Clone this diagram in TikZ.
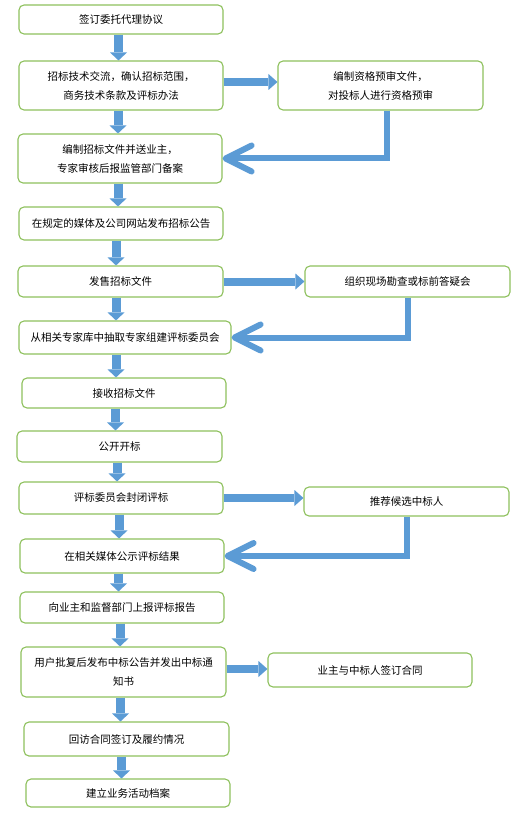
\documentclass[tikz,border=0pt]{standalone}
\usepackage{fontspec}
\newfontfamily\cjk{Noto Sans CJK SC}
\usetikzlibrary{arrows.meta}

\begin{document}
\begin{tikzpicture}[x=1pt,y=-1pt]
	\tikzstyle{every node}=[font=\cjk\fontsize{10.5pt}{19pt}\selectfont]
	
	\definecolor{boxgreen}{RGB}{141,192,92}
	\definecolor{arrowblue}{RGB}{91,155,213}
	\tikzstyle{procbox}=[draw=boxgreen, line width=1.1pt, rounded corners=5pt, align=center, inner sep=0pt]
	\tikzstyle{downarrow}=[arrowblue, line width=9pt, -{Triangle[length=8pt,width=17pt,line width=0pt]}]
	\tikzstyle{sidearrow}=[arrowblue, line width=8pt, -{Triangle[length=9pt,width=16pt,line width=0pt]}]
	\tikzstyle{backarrow}=[arrowblue, line width=6pt, -{Straight Barb[length=26pt,width=26pt,round]}]
	%%page size of the flow chart
	\useasboundingbox (0,0) rectangle (531,813);
	
	\node [procbox, minimum width=204pt, minimum height=29pt] (b1) at (121.0000,19.5000) {签订委托代理协议};
	\node [procbox, minimum width=204pt, minimum height=49pt] (b2) at (121.0000,85.5000) {招标技术交流，确认招标范围，\\商务技术条款及评标办法};
	\node [procbox, minimum width=205pt, minimum height=49pt] (r1) at (380.5000,85.5000) {编制资格预审文件，\\对投标人进行资格预审};
	\node [procbox, minimum width=204pt, minimum height=49pt] (b3) at (120.0000,158.5000) {编制招标文件并送业主，\\专家审核后报监管部门备案};
	\node [procbox, minimum width=204pt, minimum height=33pt] (b4) at (121.0000,223.5000) {在规定的媒体及公司网站发布招标公告};
	\node [procbox, minimum width=205pt, minimum height=31pt] (b5) at (120.5000,281.5000) {发售招标文件};
	\node [procbox, minimum width=205pt, minimum height=31pt] (r2) at (407.5000,281.5000) {组织现场勘查或标前答疑会};
	\node [procbox, minimum width=212pt, minimum height=33pt] (b6) at (125.0000,337.5000) {从相关专家库中抽取专家组建评标委员会};
	\node [procbox, minimum width=204pt, minimum height=30pt] (b7) at (124.0000,393.0000) {接收招标文件};
	\node [procbox, minimum width=205pt, minimum height=31pt] (b8) at (119.5000,446.5000) {公开开标};
	\node [procbox, minimum width=204pt, minimum height=32pt] (b9) at (121.0000,498.0000) {评标委员会封闭评标};
	\node [procbox, minimum width=205pt, minimum height=29pt] (r3) at (406.5000,501.5000) {推荐候选中标人};
	\node [procbox, minimum width=204pt, minimum height=34pt] (b10) at (122.0000,556.0000) {在相关媒体公示评标结果};
	\node [procbox, minimum width=204pt, minimum height=31pt] (b11) at (122.0000,607.5000) {向业主和监督部门上报评标报告};
	\node [procbox, minimum width=205pt, minimum height=50pt] (b12) at (123.5000,672.0000) {用户批复后发布中标公告并发出中标通\\知书};
	\node [procbox, minimum width=204pt, minimum height=34pt] (r4) at (370.0000,670.0000) {业主与中标人签订合同};
	\node [procbox, minimum width=205pt, minimum height=34pt] (b13) at (126.5000,739.0000) {回访合同签订及履约情况};
	\node [procbox, minimum width=204pt, minimum height=28pt] (b14) at (128.0000,793.0000) {建立业务活动档案};
	
	\foreach \a/\b/\dx in {b1/b2/-2.5, b2/b3/-3, b3/b4/-2, b4/b5/-5, b5/b6/-4.5, b6/b7/-9, b7/b8/-8.5, b8/b9/-2.5, b9/b10/-2, b10/b11/-3.5, b11/b12/-2, b12/b13/-3, b13/b14/-5}
		\draw [downarrow] ([xshift=\dx pt]\a.south) -- ([xshift=\dx pt]\a.south |- \b.north);
	
	\draw [sidearrow] ([yshift=3.5pt]b2.east) -- ([yshift=3.5pt]b2.east -| r1.west);
	\draw [sidearrow] (b5.east) -- (b5.east -| r2.west);
	\draw [sidearrow] (b9.east) -- (b9.east -| r3.west);
	\draw [sidearrow] ([yshift=3pt]b12.east) -- ([yshift=3pt]b12.east -| r4.west);
	
	\draw [backarrow] ([xshift=6pt]r1.south) |- (b3.east);
	\draw [backarrow] (r2.south) |- (b6.east);
	\draw [backarrow] (r3.south) |- (b10.east);

\end{tikzpicture}
\end{document}
